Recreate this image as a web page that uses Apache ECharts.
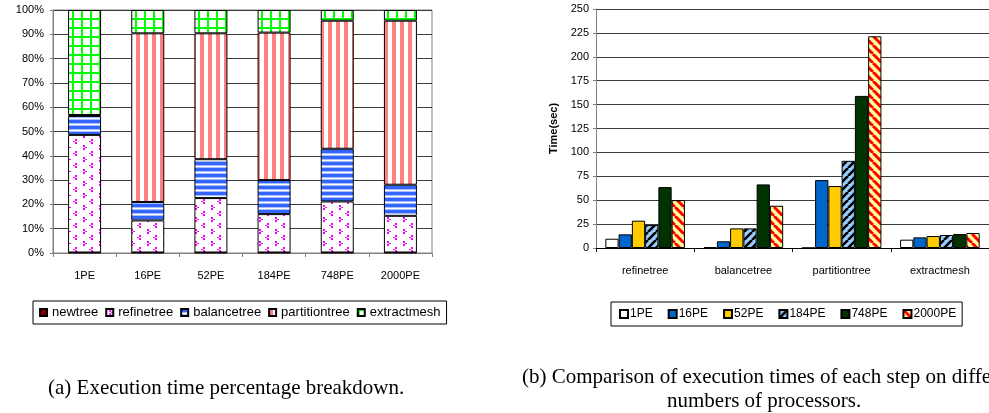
<!DOCTYPE html>
<html><head><meta charset="utf-8">
<script src="https://cdn.jsdelivr.net/npm/echarts@6/dist/echarts.min.js"></script>
<style>html,body{margin:0;padding:0;background:#fff}#c{width:989px;height:413px}</style>
</head><body><div id="c"></div>
<script>
// ---- Data: (a) percentage breakdown ----
const pctCategories = ['1PE','16PE','52PE','184PE','748PE','2000PE'];
const pctNewtree       = [0.2, 0.2, 0.2, 0.2, 0.2, 0.2];
const pctRefinetree    = [48.4, 13.2, 22.4, 15.8, 21.0, 15.1];
const pctBalancetree   = [7.8, 7.6, 16.0, 14.0, 21.7, 12.8];
const pctPartitiontree = [0.4, 69.4, 51.8, 60.7, 52.7, 67.5];
const pctExtractmesh   = [43.2, 9.6, 9.6, 9.3, 4.4, 4.4];
const pctTicks = [0,10,20,30,40,50,60,70,80,90,100];

// ---- Data: (b) execution times (sec) ----
const timeCategories = ['refinetree','balancetree','partitiontree','extractmesh'];
const time1PE    = [9.7, 1.0, 0.1, 8.7];
const time16PE   = [14.3, 7.0, 71.0, 11.1];
const time52PE   = [28.6, 20.5, 64.8, 12.5];
const time184PE  = [24.0, 20.5, 91.2, 13.6];
const time748PE  = [63.7, 66.5, 159.1, 14.6];
const time2000PE = [50.1, 44.2, 221.4, 15.7];

function pat(w, h, draw) {
  const c = document.createElement('canvas'); c.width = w; c.height = h;
  const g = c.getContext('2d'); draw(g, w, h);
  return { image: c, repeat: 'repeat' };
}
const fillRefine = pat(16, 12, g => {
  g.fillStyle = '#fff'; g.fillRect(0, 0, 16, 12); g.fillStyle = '#ff00ff';
  [[3,1,2],[11,7,-2]].forEach(([x,y,d]) => {
    g.fillRect(x, y, 2, 2); g.fillRect(x + d, y + 2, 2, 1); g.fillRect(x, y + 3, 2, 2);
  });
});
const fillBalance = pat(4, 6, g => {
  g.fillStyle = '#fff'; g.fillRect(0, 0, 4, 6);
  g.fillStyle = '#3366ff'; g.fillRect(0, 0, 4, 3);
  g.fillStyle = '#a8bfff'; g.fillRect(0, 3, 4, 1); g.fillRect(0, 5, 4, 1);
});
const fillPartition = pat(8, 4, g => {
  g.fillStyle = '#fff'; g.fillRect(0, 0, 8, 4);
  g.fillStyle = '#ff8080'; g.fillRect(0, 0, 4, 4);
});
const fillExtract = pat(9, 9, g => {
  g.fillStyle = '#fff'; g.fillRect(0, 0, 9, 9);
  g.fillStyle = '#00ff00'; g.fillRect(0, 0, 2, 9); g.fillRect(0, 0, 9, 2);
});
const fill184 = pat(8, 8, g => {
  g.fillStyle = '#99ccff'; g.fillRect(0, 0, 8, 8);
  g.strokeStyle = '#000'; g.lineWidth = 2.6;
  for (const o of [-8, 0, 8]) { g.beginPath(); g.moveTo(o, 8); g.lineTo(o + 8, 0); g.stroke(); }
});
const fill2000 = pat(9, 9, g => {
  g.fillStyle = '#ffff99'; g.fillRect(0, 0, 9, 9);
  g.strokeStyle = '#ff0000'; g.lineWidth = 3;
  for (const o of [-9, 0, 9]) { g.beginPath(); g.moveTo(o, 0); g.lineTo(o + 9, 9); g.stroke(); }
});

const FONT = 'Liberation Sans, Arial, sans-serif';
const SERIF = '21px "Liberation Serif", "Times New Roman", serif';
const bs = { borderColor: '#000', borderWidth: 1 };

function pctSeries(name, data, color) {
  return { name, type: 'bar', stack: 'p', xAxisIndex: 0, yAxisIndex: 0, data,
    barWidth: 33, itemStyle: Object.assign({ color }, bs), emphasis: { disabled: true } };
}
function timeSeries(name, data, color) {
  return { name, type: 'bar', xAxisIndex: 1, yAxisIndex: 1, data,
    barGap: '0%', barCategoryGap: '19%', itemStyle: Object.assign({ color }, bs), emphasis: { disabled: true } };
}

const chart = echarts.init(document.getElementById('c'), null, { renderer: 'canvas' });
chart.setOption({
  animation: false,
  backgroundColor: '#fff',
  textStyle: { fontFamily: FONT },
  grid: [
    { left: 53, top: 10, width: 379, height: 243, show: true, borderColor: '#808080', borderWidth: 1, backgroundColor: 'transparent' },
    { left: 596, top: 9, width: 398, height: 239 }
  ],
  xAxis: [
    { type: 'category', gridIndex: 0, data: pctCategories,
      axisLine: { lineStyle: { color: '#808080' } },
      axisTick: { show: true, length: 4, lineStyle: { color: '#808080' } },
      axisLabel: { color: '#000', fontSize: 11, fontFamily: FONT, margin: 17 } },
    { type: 'category', gridIndex: 1, data: timeCategories,
      axisLine: { lineStyle: { color: '#000' } },
      axisTick: { show: true, length: 4, lineStyle: { color: '#000' } },
      axisLabel: { color: '#000', fontSize: 11, fontFamily: FONT, margin: 17 } }
  ],
  yAxis: [
    { type: 'value', gridIndex: 0, min: pctTicks[0], max: pctTicks[pctTicks.length - 1], interval: 10,
      axisLine: { show: true, lineStyle: { color: '#808080' } },
      axisTick: { show: true, length: 3, lineStyle: { color: '#808080' } },
      axisLabel: { color: '#000', fontSize: 11, fontFamily: FONT, margin: 9, formatter: '{value}%' },
      splitLine: { lineStyle: { color: '#3a3a3a', width: 1 } } },
    { type: 'value', gridIndex: 1, min: 0, max: 250, interval: 25,
      name: 'Time(sec)', nameLocation: 'middle', nameGap: 37,
      nameTextStyle: { color: '#000', fontSize: 11, fontWeight: 'bold', fontFamily: FONT },
      axisLine: { show: true, lineStyle: { color: '#808080' } },
      axisTick: { show: true, length: 3, lineStyle: { color: '#808080' } },
      axisLabel: { color: '#000', fontSize: 11, fontFamily: FONT, margin: 7 },
      splitLine: { lineStyle: { color: '#3a3a3a', width: 1 } } }
  ],
  legend: [
    { data: ['newtree','refinetree','balancetree','partitiontree','extractmesh'],
      left: 33, top: 301, width: 440, orient: 'horizontal', icon: 'rect', itemWidth: 7, itemHeight: 7, itemGap: 7,
      padding: [5, 6], borderColor: '#000', borderWidth: 1, selectedMode: false,
      textStyle: { color: '#000', fontSize: 13, fontFamily: FONT } },
    { data: ['1PE','16PE','52PE','184PE','748PE','2000PE'],
      left: 611, top: 302, width: 378, orient: 'horizontal', icon: 'rect', itemWidth: 8, itemHeight: 8, itemGap: 15,
      padding: [6, 6, 6, 8], borderColor: '#000', borderWidth: 1, selectedMode: false,
      textStyle: { color: '#000', fontSize: 12, fontFamily: FONT, padding: [0, 0, 0, -3] } }
  ],
  series: [
    pctSeries('newtree', pctNewtree, '#800000'),
    pctSeries('refinetree', pctRefinetree, fillRefine),
    pctSeries('balancetree', pctBalancetree, fillBalance),
    pctSeries('partitiontree', pctPartitiontree, fillPartition),
    pctSeries('extractmesh', pctExtractmesh, fillExtract),
    timeSeries('1PE', time1PE, '#ffffff'),
    timeSeries('16PE', time16PE, '#0066cc'),
    timeSeries('52PE', time52PE, '#ffcc00'),
    timeSeries('184PE', time184PE, fill184),
    timeSeries('748PE', time748PE, '#003300'),
    timeSeries('2000PE', time2000PE, fill2000)
  ],
  graphic: [
    { type: 'text', left: 48, top: 378, style: { text: '(a) Execution time percentage breakdown.', font: SERIF, fill: '#000' } },
    { type: 'text', left: 522, top: 367, style: { text: '(b) Comparison of execution times of each step on different', font: SERIF, fill: '#000' } },
    { type: 'text', left: 667, top: 391, style: { text: 'numbers of processors.', font: SERIF, fill: '#000' } }
  ]
});
</script></body></html>
